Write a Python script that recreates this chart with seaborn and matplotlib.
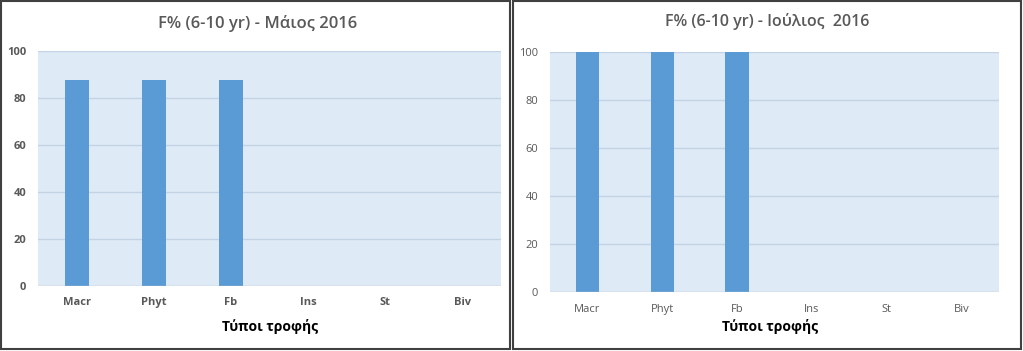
import matplotlib
matplotlib.use("Agg")
import matplotlib.pyplot as plt
from matplotlib.patches import Rectangle
import numpy as np
import pandas as pd
import seaborn as sns

categories = ["Macr", "Phyt", "Fb", "Ins", "St", "Biv"]
may_values = [87.5, 87.5, 87.5, 0, 0, 0]
july_values = [100, 100, 100, 0, 0, 0]
titles = ["F% (6-10 yr) - Μάιος 2016", "F% (6-10 yr) - Ιούλιος  2016"]
xlabel = "Τύποι τροφής"

sns.set_theme(style="white")
plt.rcParams["font.family"] = ["Open Sans", "DejaVu Sans"]

bar_col = "#5B9BD5"
bg_col = "#DEEAF6"
grid_col = "#C3D3E3"
text_col = "#595959"

fig = plt.figure(figsize=(10.23, 3.51), dpi=100)

# panel frames
fig.patches.append(Rectangle((0.5 / 1023, 2 / 351), 509 / 1023, 348 / 351, transform=fig.transFigure,
                             fill=False, edgecolor="#404040", linewidth=1.5))
fig.patches.append(Rectangle((512.5 / 1023, 2 / 351), 508.5 / 1023, 348 / 351, transform=fig.transFigure,
                             fill=False, edgecolor="#404040", linewidth=1.5))

panels = [
    dict(vals=may_values, rect=[38 / 1023, 65 / 351, 463 / 1023, 235 / 351], title=titles[0],
         tx=258, ty=24, lx=270, ly=326, bold=True, tsize=12, xpad=13.7),
    dict(vals=july_values, rect=[550 / 1023, 59 / 351, 449 / 1023, 240 / 351], title=titles[1],
         tx=767, ty=22, lx=770, ly=327, bold=False, tsize=11.5, xpad=14.4),
]

for p in panels:
    ax = fig.add_axes(p["rect"])
    df = pd.DataFrame({"cat": categories, "val": p["vals"]})
    sns.barplot(data=df, x="cat", y="val", color=bar_col, width=0.31, saturation=1,
                linewidth=0, ax=ax, zorder=3)
    ax.set_facecolor(bg_col)
    ax.set_ylim(0, 100)
    ax.set_xlim(-0.5, 5.5)
    ax.set_yticks(np.arange(0, 101, 20))
    for y in np.arange(20, 101, 20):
        ax.axhline(y, color=grid_col, linewidth=1, zorder=1)
    ax.axhline(0, color="#BFBFBF", linewidth=1, zorder=4)
    for s in ax.spines.values():
        s.set_visible(False)
    w = "bold" if p["bold"] else "normal"
    ax.tick_params(axis="both", length=0, labelsize=8, labelcolor=text_col)
    ax.tick_params(axis="x", pad=p["xpad"])
    ax.tick_params(axis="y", pad=8.5)
    for t in ax.get_xticklabels():
        t.set_fontweight(w)
        t.set_verticalalignment("baseline")
    for t in ax.get_yticklabels():
        t.set_fontweight(w)
    ax.set_xlabel("")
    ax.set_ylabel("")
    fig.text(p["tx"] / 1023, 1 - p["ty"] / 351, p["title"], ha="center", va="center",
             fontsize=p["tsize"], color=text_col, fontweight="semibold")
    fig.text(p["lx"] / 1023, 1 - p["ly"] / 351, xlabel, ha="center", va="center",
             fontsize=10, color="black", fontweight="bold")

fig.savefig("out.png", dpi=100)
